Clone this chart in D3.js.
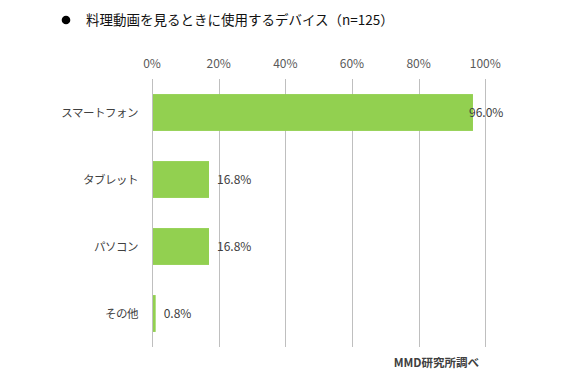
<!DOCTYPE html>
<html><head><meta charset="utf-8">
<script src="https://cdn.jsdelivr.net/npm/d3@7"></script>
<style>
body{margin:0;background:#fff;}
svg{display:block;font-family:"Noto Sans CJK JP","Noto Sans",sans-serif;}
</style></head>
<body>
<svg id="c" width="569" height="379"></svg>
<script>
const categories = ["スマートフォン","タブレット","パソコン","その他"];
const values = [96.0, 16.8, 16.8, 0.8];
const tickValues = [0,20,40,60,80,100];
const tickLabels = ["0%","20%","40%","60%","80%","100%"];
const title = "料理動画を見るときに使用するデバイス（n=125）";
const source = "MMD研究所調べ";

(function(){
const svg = d3.select("#c");
const mLeft = 152, mRight = 485.3, mTop = 79, mBottom = 347;
const x = d3.scaleLinear().domain([0,100]).range([mLeft,mRight]);
const y = d3.scaleBand().domain(categories).range([mTop,mBottom]).paddingInner(0.45).paddingOuter(0.225);

svg.append("circle").attr("cx",66).attr("cy",20).attr("r",4.3).attr("fill","#000");
svg.append("text").attr("x",86).attr("y",25).attr("font-size",13.5).attr("fill","#111")
  .text(title);

svg.append("g").selectAll("line").data(tickValues).join("line")
  .attr("x1",d=>Math.round(x(d))+0.5).attr("x2",d=>Math.round(x(d))+0.5).attr("y1",mTop).attr("y2",mBottom)
  .attr("stroke","#bfbfbf").attr("stroke-width",1);

svg.append("g").selectAll("text").data(tickValues).join("text")
  .attr("x",d=>x(d)).attr("y",68).attr("text-anchor","middle")
  .attr("font-size",12).attr("fill","#595959")
  .text((d,i)=>tickLabels[i]);

svg.append("g").selectAll("rect").data(values).join("rect")
  .attr("x",x(0)+1).attr("y",(d,i)=>y(categories[i]))
  .attr("width",d=>x(d)-x(0)).attr("height",y.bandwidth())
  .attr("fill","#92d050");

svg.append("g").selectAll("text").data(values).join("text")
  .attr("x",d=>Math.min(x(d)+9, 469)).attr("y",(d,i)=>y(categories[i])+y.bandwidth()/2+4.5)
  .attr("font-size",12).attr("fill","#404040")
  .text(d=>d.toFixed(1)+"%");

svg.append("g").selectAll("text").data(categories).join("text")
  .attr("x",138).attr("y",d=>y(d)+y.bandwidth()/2+4.5).attr("text-anchor","end")
  .attr("font-size",11.5).attr("fill","#404040").attr("letter-spacing",-0.5)
  .text(d=>d);

svg.append("text").attr("x",479).attr("y",367).attr("text-anchor","end")
  .attr("font-size",11.5).attr("font-weight","bold").attr("fill","#404040")
  .text(source);
})();
</script>
</body></html>
